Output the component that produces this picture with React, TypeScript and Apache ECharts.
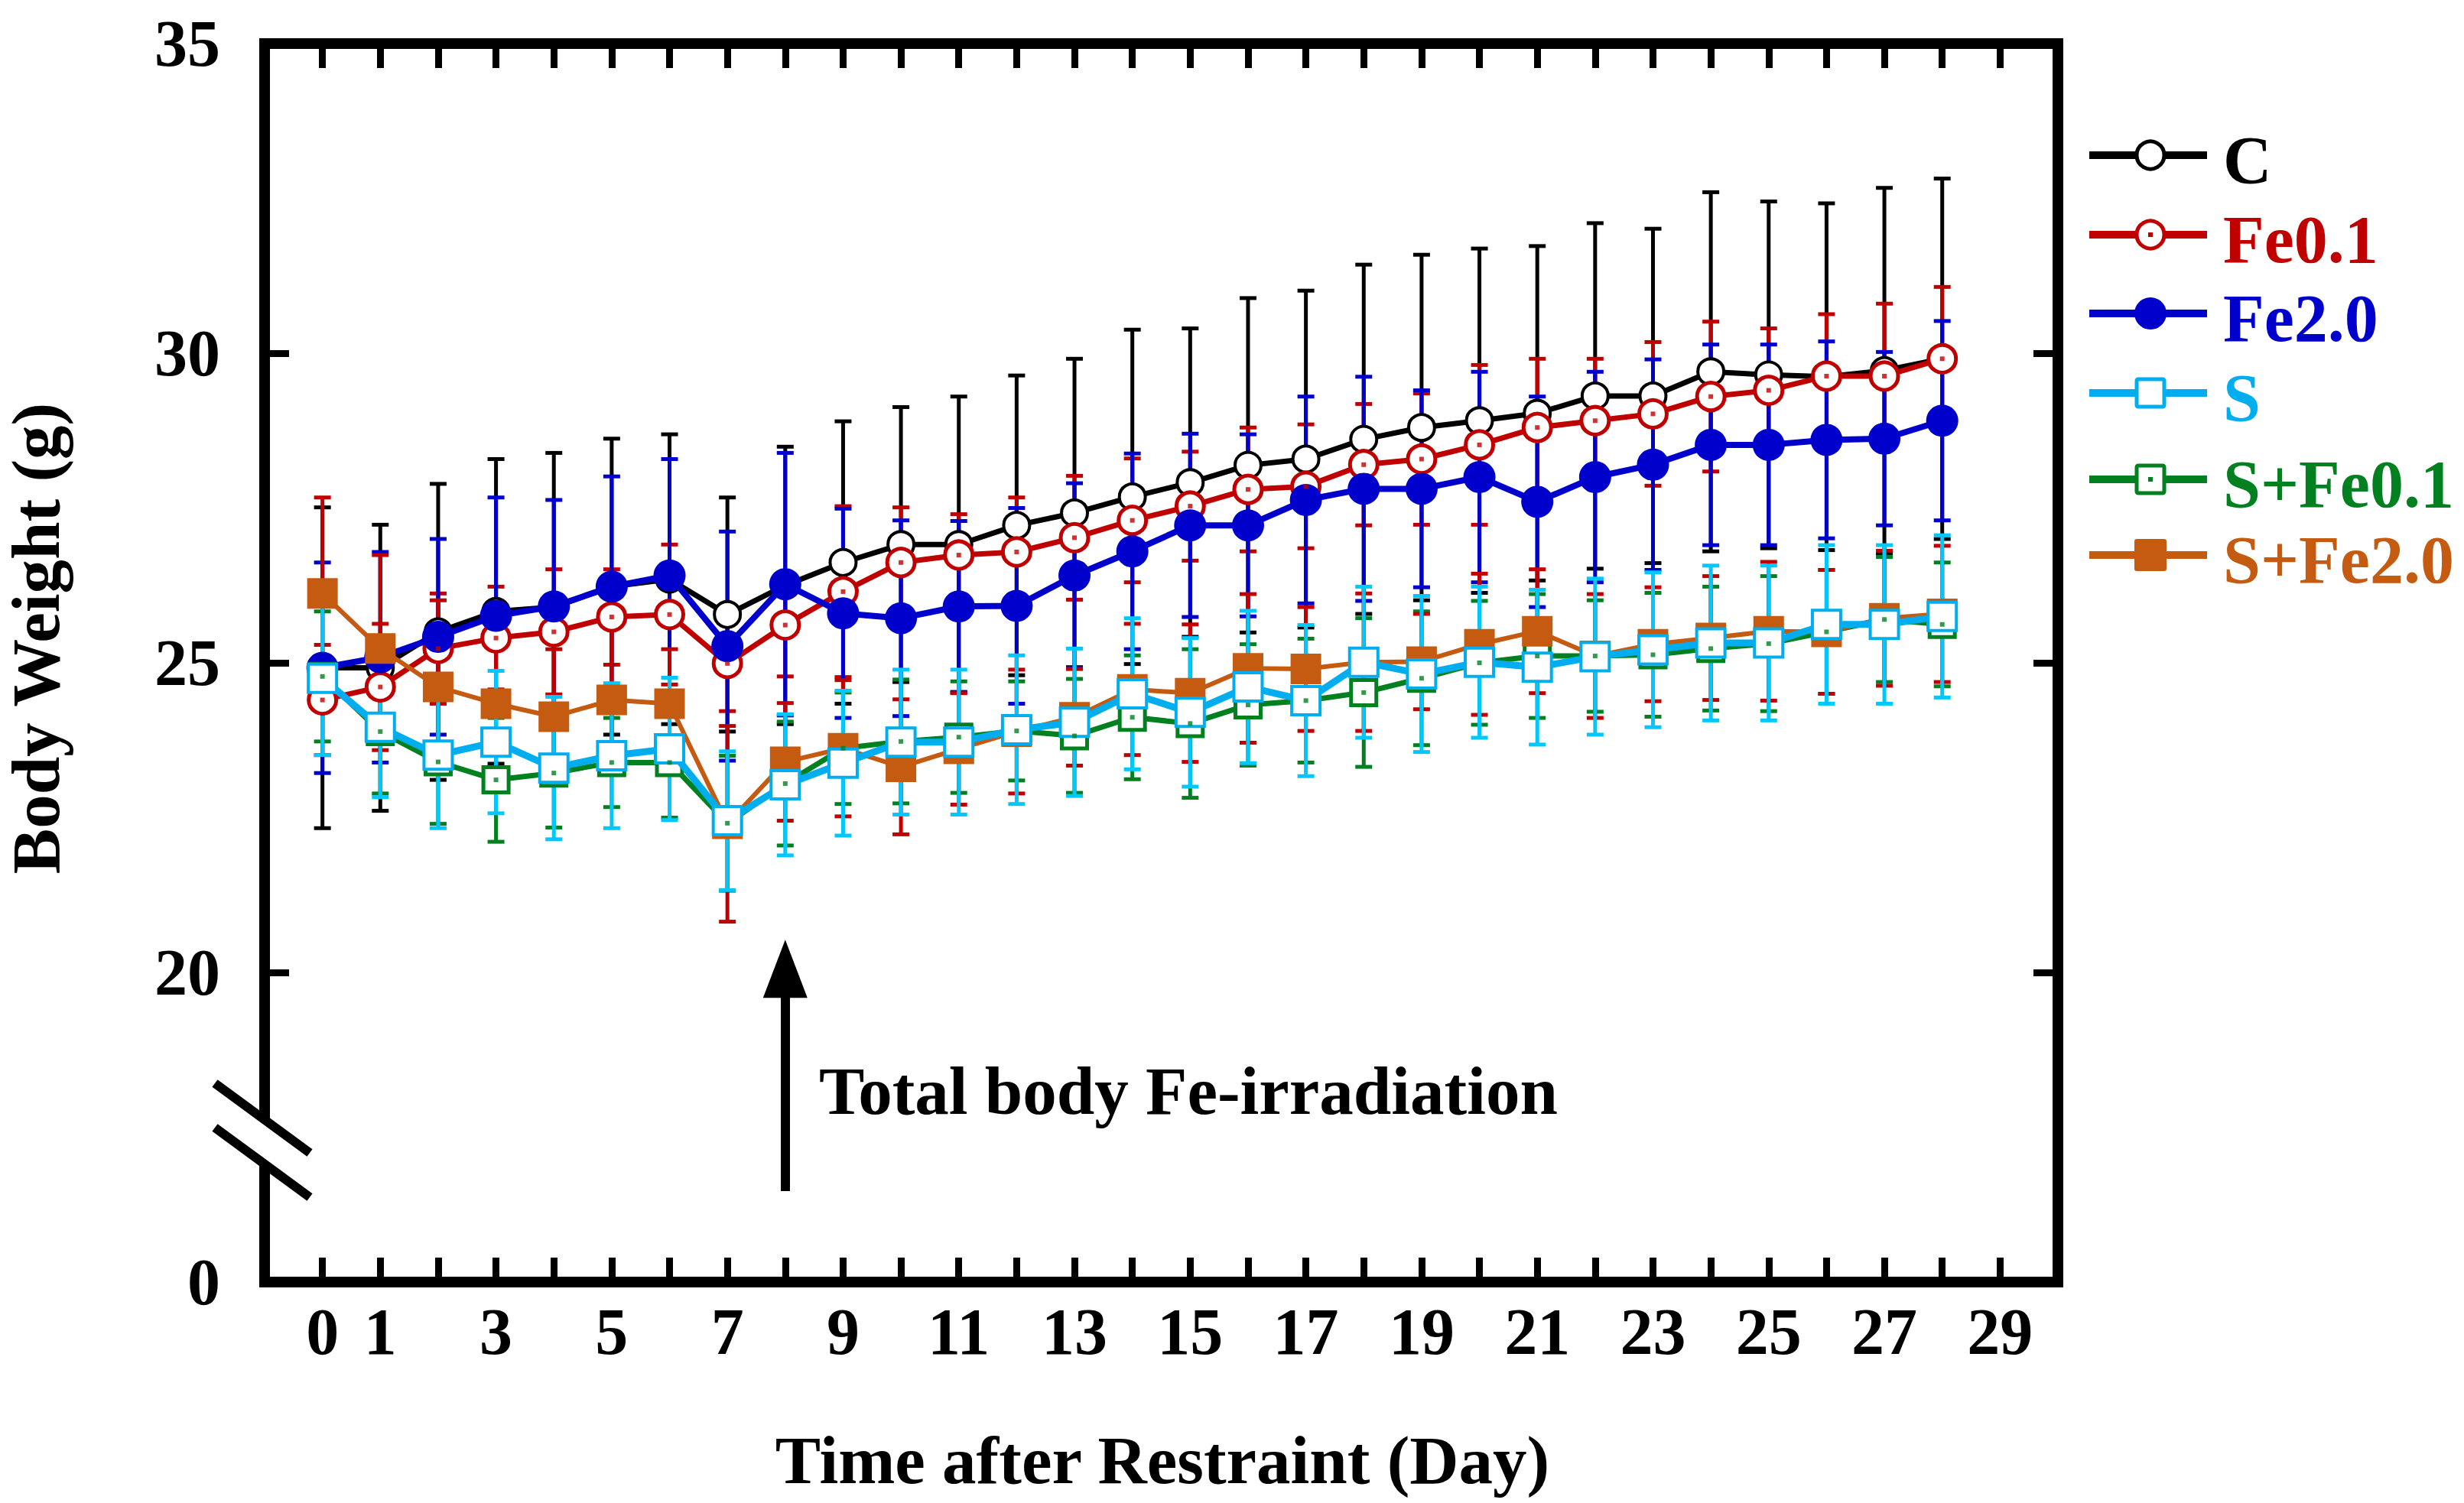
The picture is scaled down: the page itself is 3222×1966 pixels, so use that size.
import React, { useEffect, useRef } from 'react';
import * as echarts from 'echarts';

// ---------- data ----------
const days = [0, 1, 2, 3, 4, 5, 6, 7, 8, 9, 10, 11, 12, 13, 14, 15, 16, 17, 18, 19, 20, 21, 22, 23, 24, 25, 26, 27, 28];
const xTickLabels = [0, 1, 3, 5, 7, 9, 11, 13, 15, 17, 19, 21, 23, 25, 27, 29];
const yTickLabels = [20, 25, 30, 35];

const C_mean = [24.92, 24.92, 25.50, 25.83, 25.90, 26.23, 26.35, 25.78, 26.25, 26.62, 26.91, 26.91, 27.22, 27.42, 27.68, 27.91, 28.19, 28.29, 28.61, 28.80, 28.91, 29.03, 29.31, 29.31, 29.70, 29.65, 29.62, 29.72, 29.91];
const C_sd = [2.59, 2.31, 2.39, 2.46, 2.49, 2.39, 2.34, 1.89, 2.24, 2.28, 2.22, 2.39, 2.42, 2.49, 2.70, 2.49, 2.70, 2.72, 2.82, 2.79, 2.78, 2.70, 2.79, 2.70, 2.90, 2.80, 2.80, 2.95, 2.91];

const Fe01_mean = [24.40, 24.61, 25.23, 25.40, 25.50, 25.74, 25.78, 24.99, 25.61, 26.15, 26.62, 26.74, 26.79, 27.02, 27.30, 27.53, 27.80, 27.85, 28.20, 28.29, 28.52, 28.80, 28.91, 29.02, 29.30, 29.40, 29.63, 29.63, 29.91];
const Fe01_sd = [0.89, 1.02, 0.89, 0.83, 1.01, 0.77, 1.13, 0.77, 0.83, 1.38, 0.89, 0.66, 0.88, 1.00, 1.00, 0.88, 1.00, 1.00, 0.98, 1.06, 1.29, 1.11, 1.00, 1.16, 1.21, 1.00, 1.00, 1.17, 1.16];

const Fe20_mean = [24.92, 25.09, 25.42, 25.76, 25.91, 26.23, 26.41, 25.27, 26.27, 25.80, 25.72, 25.91, 25.92, 26.41, 26.80, 27.22, 27.22, 27.63, 27.81, 27.81, 28.00, 27.60, 28.00, 28.20, 28.52, 28.52, 28.60, 28.62, 28.91];
const Fe20_sd = [1.70, 1.70, 1.58, 1.91, 1.72, 1.78, 1.88, 1.85, 2.12, 1.69, 1.58, 1.38, 1.58, 1.49, 1.58, 1.48, 1.47, 1.67, 1.81, 1.59, 1.70, 1.70, 1.70, 1.70, 1.62, 1.62, 1.59, 1.40, 1.61];

const S_mean = [24.75, 23.96, 23.51, 23.72, 23.30, 23.50, 23.61, 22.45, 23.03, 23.38, 23.72, 23.72, 23.92, 24.04, 24.50, 24.20, 24.61, 24.39, 25.01, 24.82, 25.01, 24.93, 25.10, 25.21, 25.32, 25.32, 25.62, 25.62, 25.75];
const S_sd = [1.24, 1.13, 1.18, 1.15, 1.15, 1.17, 1.15, 1.12, 1.14, 1.17, 1.17, 1.17, 1.20, 1.19, 1.22, 1.20, 1.23, 1.22, 1.22, 1.26, 1.22, 1.25, 1.26, 1.25, 1.25, 1.25, 1.28, 1.28, 1.31];

const SFe01_mean = [24.78, 23.89, 23.40, 23.11, 23.22, 23.39, 23.39, 22.41, 23.05, 23.62, 23.73, 23.80, 23.90, 23.82, 24.12, 24.02, 24.32, 24.39, 24.52, 24.75, 25.00, 25.11, 25.11, 25.13, 25.23, 25.31, 25.50, 25.70, 25.62];
const SFe01_sd = [1.05, 1.00, 1.00, 1.00, 0.88, 0.72, 0.89, 1.09, 1.00, 0.90, 1.00, 0.90, 0.80, 0.92, 1.00, 1.20, 0.98, 1.00, 1.20, 1.08, 1.00, 1.00, 0.90, 1.00, 1.00, 1.09, 1.00, 1.01, 1.00];

const SFe20_mean = [26.12, 25.23, 24.61, 24.34, 24.13, 24.40, 24.34, 22.40, 23.40, 23.62, 23.32, 23.61, 23.89, 24.12, 24.57, 24.51, 24.91, 24.90, 25.01, 25.02, 25.30, 25.51, 25.11, 25.30, 25.40, 25.51, 25.50, 25.72, 25.79];
const SFe20_sd = [1.55, 1.51, 1.40, 1.30, 1.09, 1.20, 0.88, 1.58, 0.95, 1.10, 1.09, 0.90, 1.00, 0.78, 1.06, 1.11, 1.20, 1.00, 1.11, 0.77, 1.14, 1.00, 1.00, 0.92, 1.00, 1.12, 1.00, 1.09, 1.10];

// arrow annotation (data units)
const arrowDay = 8;
const arrowFrom = 16.47;
const arrowTo = 20.06;

// ---------- styling ----------
const FONT = "'Liberation Serif', 'Times New Roman', serif";
const RED = '#C00000';
const BLUE = '#0000CC';
const CYAN = '#00AEEF';
const CYAN_ERR = '#00C8FF';
const GREEN = '#00801F';
const ORANGE = '#C55A11';

type Group = {
  name: string; mean: number[]; sd: number[]; color: string; errColor: string;
  symbol: string; size: number; fill: string; border: number; lineWidth: number; dot: boolean;
};

const groups: Group[] = [
  { name: 'C', mean: C_mean, sd: C_sd, color: '#000000', errColor: '#000000', symbol: 'circle', size: 34, fill: '#ffffff', border: 4, lineWidth: 7, dot: false },
  { name: 'Fe0.1', mean: Fe01_mean, sd: Fe01_sd, color: RED, errColor: RED, symbol: 'circle', size: 36, fill: '#ffffff', border: 5, lineWidth: 7, dot: true },
  { name: 'Fe2.0', mean: Fe20_mean, sd: Fe20_sd, color: BLUE, errColor: BLUE, symbol: 'circle', size: 42, fill: BLUE, border: 0, lineWidth: 8, dot: false },
  { name: 'S+Fe0.1', mean: SFe01_mean, sd: SFe01_sd, color: GREEN, errColor: GREEN, symbol: 'rect', size: 33, fill: '#ffffff', border: 5, lineWidth: 7, dot: true },
  { name: 'S+Fe2.0', mean: SFe20_mean, sd: SFe20_sd, color: ORANGE, errColor: RED, symbol: 'rect', size: 40, fill: ORANGE, border: 0, lineWidth: 6, dot: false },
  { name: 'S', mean: S_mean, sd: S_sd, color: CYAN, errColor: CYAN_ERR, symbol: 'rect', size: 37, fill: '#ffffff', border: 4, lineWidth: 9, dot: false },
];

const legendOrder = ['C', 'Fe0.1', 'Fe2.0', 'S', 'S+Fe0.1', 'S+Fe2.0'];
const legendY = [203, 307, 410, 514, 627, 726];

export default function App() {
  const ref = useRef<HTMLDivElement>(null);

  useEffect(() => {
    const chart = echarts.init(ref.current as HTMLDivElement, null, { renderer: 'svg' });

    const labelStyle = { fontFamily: FONT, fontWeight: 'bold' as const, fontSize: 86, color: '#000' };
    const tickStyle = { show: true, inside: true, length: 32, lineStyle: { color: '#000', width: 9 } };

    const errorSeries = groups.map((g) => ({
      type: 'custom',
      name: g.name + '-err',
      z: 1,
      silent: true,
      encode: { x: 0, y: 1 },
      data: days.map((d, i) => [d, g.mean[i], g.sd[i]]),
      renderItem: (params: any, api: any) => {
        const x = api.value(0);
        const m = api.value(1);
        const s = api.value(2);
        const top = api.coord([x, m + s]);
        const bot = api.coord([x, m - s]);
        const hw = 11;
        const st = { stroke: g.errColor, lineWidth: 5 };
        return {
          type: 'group',
          children: [
            { type: 'line', shape: { x1: top[0], y1: top[1], x2: bot[0], y2: bot[1] }, style: st },
            { type: 'line', shape: { x1: top[0] - hw, y1: top[1], x2: top[0] + hw, y2: top[1] }, style: st },
            { type: 'line', shape: { x1: bot[0] - hw, y1: bot[1], x2: bot[0] + hw, y2: bot[1] }, style: st },
          ],
        };
      },
    }));

    const lineSeries = groups.map((g, idx) => {
      const s: any = {
        type: 'line',
        name: g.name,
        z: 3 + idx,
        data: days.map((d, i) => [d, g.mean[i]]),
        symbol: g.symbol,
        symbolSize: g.size,
        showSymbol: true,
        showAllSymbol: true,
        silent: true,
        lineStyle: { color: g.color, width: g.lineWidth },
        itemStyle: { color: g.fill, borderColor: g.color, borderWidth: g.border, opacity: 1 },
        emphasis: { disabled: true },
      };
      if (g.name === 'C') {
        s.markLine = {
          silent: true,
          symbol: ['none', 'triangle'],
          symbolSize: [58, 76],
          lineStyle: { color: '#000', width: 12, type: 'solid' },
          itemStyle: { color: '#000' },
          label: { show: false },
          emphasis: { disabled: true },
          data: [[{ coord: [arrowDay, arrowFrom] }, { coord: [arrowDay, arrowTo] }]],
        };
      }
      return s;
    });

    const dotSeries = groups.filter((g) => g.dot).map((g) => ({
      type: 'scatter',
      name: g.name + '-dot',
      z: 20,
      silent: true,
      symbol: 'rect',
      symbolSize: 6,
      itemStyle: { color: g.color },
      data: days.map((d, i) => [d, g.mean[i]]),
    }));

    // legend drawn as graphic
    const legendGraphics: any[] = [];
    legendOrder.forEach((name, k) => {
      const g = groups.find((q) => q.name === name) as Group;
      const y = legendY[k];
      const cx = 2812;
      legendGraphics.push({ type: 'line', z: 100, shape: { x1: 2732, y1: y, x2: 2886, y2: y }, style: { stroke: g.color, lineWidth: 10 } });
      if (g.symbol === 'circle') {
        if (g.border > 0) {
          legendGraphics.push({ type: 'circle', z: 101, shape: { cx, cy: y, r: 18 }, style: { fill: '#fff', stroke: g.color, lineWidth: 5 } });
        } else {
          legendGraphics.push({ type: 'circle', z: 101, shape: { cx, cy: y, r: 21 }, style: { fill: g.color } });
        }
      } else {
        if (g.border > 0) {
          legendGraphics.push({ type: 'rect', z: 101, shape: { x: cx - 18, y: y - 18, width: 36, height: 36, r: 2 }, style: { fill: '#fff', stroke: g.color, lineWidth: 5 } });
        } else {
          legendGraphics.push({ type: 'rect', z: 101, shape: { x: cx - 21, y: y - 21, width: 42, height: 42, r: 3 }, style: { fill: g.color } });
        }
      }
      if (g.dot) {
        legendGraphics.push({ type: 'rect', z: 102, shape: { x: cx - 3, y: y - 3, width: 6, height: 6 }, style: { fill: g.color } });
      }
      legendGraphics.push({
        type: 'text', z: 101, x: 2907, y: y + 6,
        style: { text: g.name, fill: g.color, font: `bold 88px ${FONT}`, lineHeight: 88, align: 'left', textAlign: 'left', verticalAlign: 'middle', textVerticalAlign: 'middle' },
      });
    });

    const option: any = {
      animation: false,
      backgroundColor: '#ffffff',
      grid: { left: 346, right: 531, top: 57, bottom: 289, show: true, borderColor: '#000', borderWidth: 14, backgroundColor: 'transparent', containLabel: false },
      xAxis: [
        {
          type: 'value', min: -1, max: 30, interval: 1, position: 'bottom',
          axisLine: { show: false, onZero: false },
          axisTick: tickStyle,
          splitLine: { show: false },
          axisLabel: {
            ...labelStyle, margin: 22,
            formatter: (v: number) => (xTickLabels.indexOf(v) >= 0 ? String(v) : ''),
          },
        },
        {
          type: 'value', min: -1, max: 30, interval: 1, position: 'top',
          axisLine: { show: false, onZero: false },
          axisTick: tickStyle,
          splitLine: { show: false },
          axisLabel: { show: false },
        },
      ],
      yAxis: [
        {
          type: 'value', min: 15, max: 35, interval: 5, position: 'left',
          axisLine: { show: false, onZero: false },
          axisTick: tickStyle,
          splitLine: { show: false },
          axisLabel: {
            ...labelStyle, margin: 58,
            formatter: (v: number) => (v === 15 ? '0' : yTickLabels.indexOf(v) >= 0 ? String(v) : ''),
          },
        },
        {
          type: 'value', min: 15, max: 35, interval: 5, position: 'right',
          axisLine: { show: false, onZero: false },
          axisTick: tickStyle,
          splitLine: { show: false },
          axisLabel: { show: false },
        },
      ],
      series: [...errorSeries, ...lineSeries, ...dotSeries],
      graphic: [
        // axis break
        { type: 'rect', z: 100, shape: { x: 334, y: 1465, width: 24, height: 58 }, style: { fill: '#fff' } },
        { type: 'line', z: 101, shape: { x1: 281, y1: 1417, x2: 405, y2: 1508 }, style: { stroke: '#000', lineWidth: 12 } },
        { type: 'line', z: 101, shape: { x1: 281, y1: 1475, x2: 405, y2: 1566 }, style: { stroke: '#000', lineWidth: 12 } },
        // axis titles
        {
          type: 'text', z: 100, x: 47, y: 835, rotation: Math.PI / 2,
          style: { text: 'Body Weight (g)', fill: '#000', font: `bold 89px ${FONT}`, lineHeight: 89, align: 'center', textAlign: 'center', verticalAlign: 'middle', textVerticalAlign: 'middle' },
        },
        {
          type: 'text', z: 100, x: 1520, y: 1910,
          style: { text: 'Time after Restraint (Day)', fill: '#000', font: `bold 89px ${FONT}`, lineHeight: 89, align: 'center', textAlign: 'center', verticalAlign: 'middle', textVerticalAlign: 'middle' },
        },
        // annotation
        {
          type: 'text', z: 100, x: 1071, y: 1427,
          style: { text: 'Total body Fe-irradiation', fill: '#000', font: `bold 89px ${FONT}`, lineHeight: 89, align: 'left', textAlign: 'left', verticalAlign: 'middle', textVerticalAlign: 'middle' },
        },
        ...legendGraphics,
      ],
    };

    chart.setOption(option);
    return () => chart.dispose();
  }, []);

  return <div ref={ref} style={{ position: 'fixed', left: 0, top: 0, width: 3222, height: 1966, background: '#fff' }} />;
}
